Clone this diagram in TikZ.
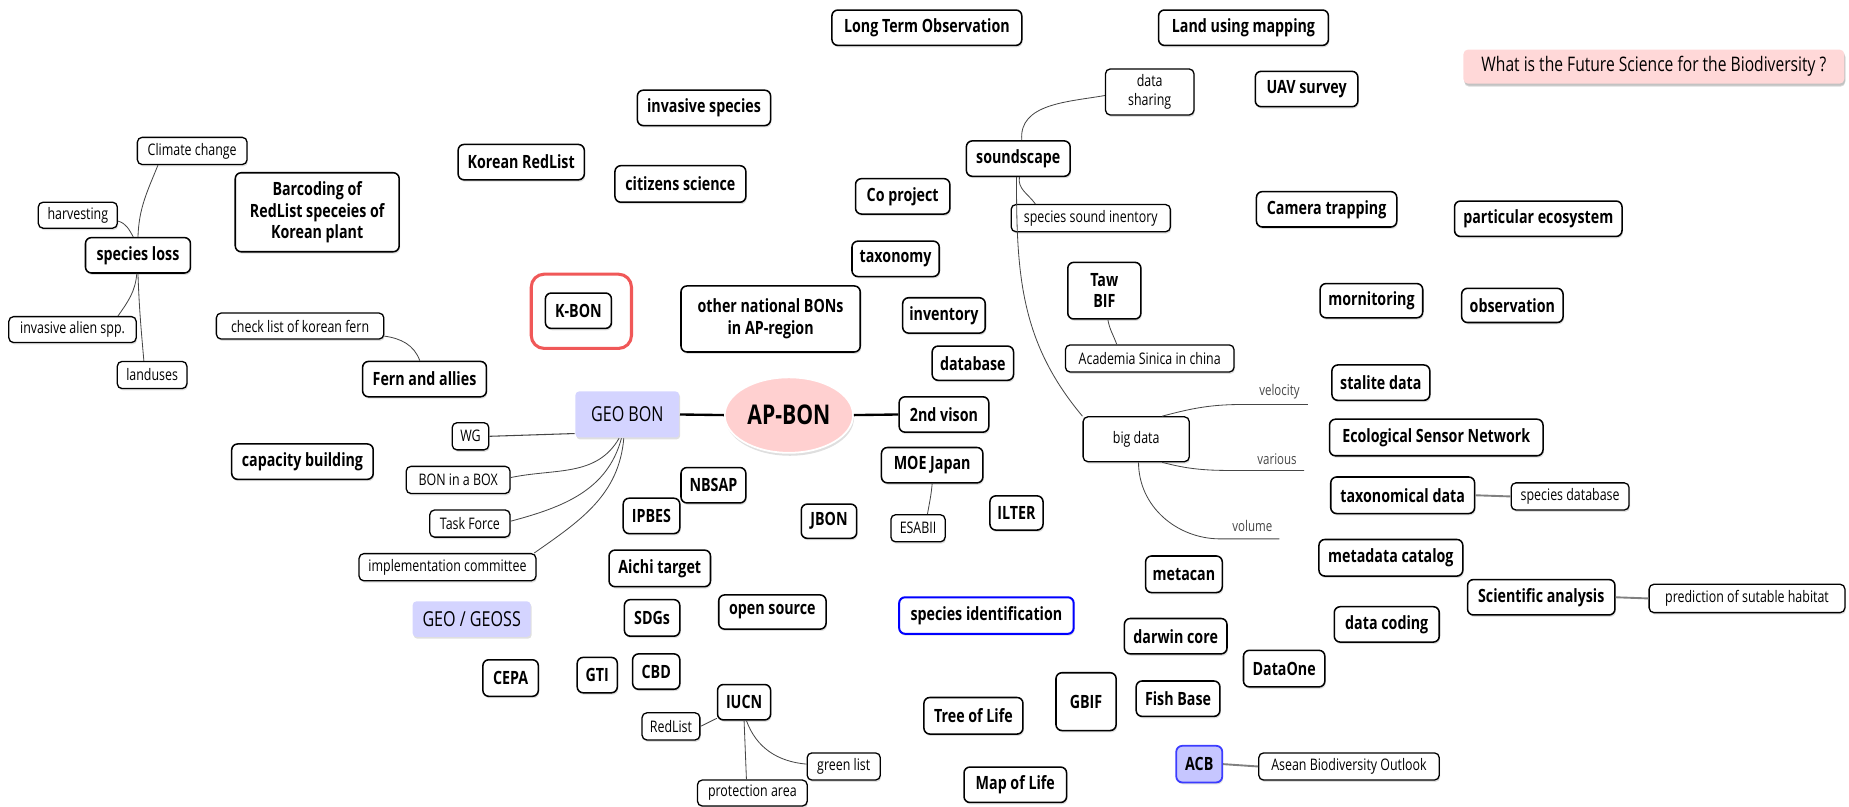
\documentclass[tikz,border=0pt]{standalone}
\usepackage{fontspec}
\setmainfont{Open Sans}[FakeStretch=0.78]
\usetikzlibrary{shapes.geometric,shadows}
\definecolor{pinkf}{RGB}{255,216,216}
\definecolor{apf}{RGB}{255,208,208}
\definecolor{lavf}{RGB}{212,212,255}
\definecolor{kred}{RGB}{240,88,88}
\definecolor{acbf}{RGB}{198,198,255}
\definecolor{acbb}{RGB}{60,60,255}
\definecolor{cline}{RGB}{70,70,70}
\tikzset{
  base/.style={rounded corners=5pt, line width=1.3pt, draw=black, fill=white, align=center, inner sep=2pt,
    drop shadow={shadow xshift=0.8pt, shadow yshift=-1.6pt, opacity=0.25}},
  bb/.style={base, font=\fontsize{15.5}{18.5}\selectfont\bfseries},
  sb/.style={base, rounded corners=4pt, line width=1.1pt, font=\fontsize{13.5}{16.5}\selectfont},
  cn/.style={draw=cline, line width=0.7pt},
  tk/.style={draw=black, line width=2pt},
  gk/.style={draw=gray, line width=1.6pt},
  lbl/.style={font=\fontsize{12.5}{13}\selectfont, inner sep=1pt, text=cline},
  sz/.style 2 args={minimum width=#1pt, minimum height=#2pt},
}
\begin{document}
\begin{tikzpicture}[x=1pt,y=1pt]
\useasboundingbox (0,0) rectangle (1568,-684);
% top row
\node[bb, sz={161}{30}] (lto) at (786,-23.5) {Long Term Observation};
\node[bb, sz={144}{30}] (lum) at (1054.5,-23.5) {Land using mapping};
\node[base, draw=none, fill=pinkf, rounded corners=4pt, sz={323}{29}, font=\fontsize{17}{18}\selectfont,
  drop shadow={shadow xshift=0.8pt, shadow yshift=-2.5pt, opacity=0.3}] (title) at (1402.5,-56.5) {What is the Future Science for the Biodiversity ?};
\node[sb, sz={75}{39}] (ds) at (975,-78) {data\\sharing};
\node[bb, sz={87}{30}] (uav) at (1108,-75.5) {UAV survey};
\node[bb, sz={113}{30}] (invs) at (597,-91.5) {invasive species};
\node[bb, sz={107}{30}] (krl) at (442,-137.5) {Korean RedList};
\node[bb, sz={111}{31}] (cs) at (577,-156) {citizens science};
\node[bb, sz={88}{30}] (snd) at (863.5,-134.5) {soundscape};
\node[bb, sz={80}{30}] (cop) at (765.5,-166.5) {Co project};
\node[sb, sz={135}{23}] (ssi) at (925,-185) {species sound inentory};
\node[bb, sz={119}{30}] (cam) at (1125,-177.5) {Camera trapping};
\node[bb, sz={142}{30}] (pec) at (1304.5,-185.5) {particular ecosystem};
% left cluster
\node[sb, sz={93}{23}] (cc) at (163,-128) {Climate change};
\node[sb, sz={67}{22}] (harv) at (66,-182.5) {harvesting};
\node[bb, sz={89}{30}] (sl) at (117,-216.5) {species loss};
\node[sb, sz={108}{22}] (ias) at (61.5,-279.5) {invasive alien spp.};
\node[sb, sz={59}{23}] (lu) at (129,-318) {landuses};
\node[bb, sz={139}{67}, font=\fontsize{15.5}{18.4}\selectfont\bfseries] (bar) at (269,-180) {Barcoding of\\RedList speceies of\\Korean plant};
\node[sb, sz={142}{22}] (ckl) at (254.5,-276.5) {check list of korean fern};
\node[bb, sz={105}{30}] (fern) at (360,-321.5) {Fern and allies};
% middle
\node[bb, sz={74}{30}] (tax) at (759.5,-219.5) {taxonomy};
\node[bb, sz={62}{48}, font=\fontsize{15.5}{17.5}\selectfont\bfseries] (taw) at (936.5,-246.5) {Taw\\BIF};
\node[draw=kred, line width=2.6pt, rounded corners=11pt, sz={85}{63}] (kbonout) at (493,-264) {};
\node[bb, sz={56}{30}] (kbon) at (490.5,-263.5) {K-BON};
\node[bb, sz={152}{56}] (onb) at (653.5,-270.5) {other national BONs\\in AP-region};
\node[bb, sz={70}{30}] (inv) at (800.5,-267.5) {inventory};
\node[bb, sz={87}{29}] (mon) at (1163,-255) {mornitoring};
\node[bb, sz={86}{29}] (obs) at (1282.5,-259) {observation};
\node[bb, sz={69}{29}] (db) at (825,-308) {database};
\node[sb, sz={143}{23}] (aca) at (975,-304) {Academia Sinica in china};
\node[bb, sz={83}{30}] (sat) at (1171,-324.5) {stalite data};
% center
\node[base, draw=none, fill=lavf, rounded corners=3pt, sz={88}{39}, font=\fontsize{17.5}{19}\selectfont] (geobon) at (532,-351.5) {GEO BON};
\node[ellipse, fill=apf, draw=white, line width=1.5pt, sz={95}{64}, font=\fontsize{23}{25}\selectfont\bfseries,
  drop shadow={shadow xshift=0.8pt, shadow yshift=-2.5pt, opacity=0.25}] (apbon) at (669,-352) {AP-BON};
\node[bb, sz={76}{30}] (vis) at (800.5,-351.5) {2nd vison};
\node[sb, sz={31}{23}] (wg) at (399,-370) {WG};
\node[sb, sz={90}{38}] (bd) at (963.5,-372.5) {big data};
\node[bb, sz={181}{31}] (esn) at (1218,-371) {Ecological Sensor Network};
\node[bb, sz={120}{30}] (capb) at (256.5,-391.5) {capacity building};
\node[bb, sz={86}{30}] (moe) at (790.5,-394.5) {MOE Japan};
\node[sb, sz={88}{23}] (bib) at (388.5,-407) {BON in a BOX};
\node[bb, sz={55}{30}] (nbsap) at (605,-411.5) {NBSAP};
\node[bb, sz={122}{31}] (taxd) at (1189.5,-420) {taxonomical data};
\node[sb, sz={100}{23}] (sdb) at (1331.5,-421) {species database};
\node[bb, sz={48}{30}] (ipbes) at (552.5,-437.5) {IPBES};
\node[bb, sz={47}{29}] (jbon) at (703,-442) {JBON};
\node[sb, sz={46}{23}] (esabii) at (778.5,-448) {ESABII};
\node[bb, sz={45}{29}] (ilter) at (862,-435) {ILTER};
\node[sb, sz={68}{23}] (tf) at (398.5,-444) {Task Force};
\node[bb, sz={122}{31}] (mdc) at (1179.5,-473) {metadata catalog};
\node[sb, sz={150}{23}] (impl) at (379.5,-481) {implementation committee};
\node[bb, sz={86}{31}] (aichi) at (559.5,-482) {Aichi target};
\node[bb, sz={65}{31}] (metacan) at (1004,-487) {metacan};
\node[bb, sz={125}{30}] (sci) at (1307,-506.5) {Scientific analysis};
\node[sb, sz={166}{24}] (pred) at (1481.5,-507.5) {prediction of sutable habitat};
\node[base, draw=none, fill=lavf, rounded corners=3pt, sz={100}{30}, font=\fontsize{17.5}{19}\selectfont] (geoss) at (400,-525) {GEO / GEOSS};
\node[bb, sz={47}{31}] (sdgs) at (553,-524) {SDGs};
\node[bb, sz={91}{29}] (os) at (655,-519) {open source};
\node[bb, draw=blue, line width=1.7pt, sz={148}{31}] (spid) at (836.5,-522) {species identification};
\node[bb, sz={89}{30}] (dc) at (1176,-529.5) {data coding};
\node[bb, sz={87}{30}] (dwc) at (997,-539.5) {darwin core};
\node[bb, sz={47}{31}] (cepa) at (433,-575) {CEPA};
\node[bb, sz={34}{30}] (gti) at (506.5,-572.5) {GTI};
\node[bb, sz={40}{30}] (cbd) at (556.5,-569.5) {CBD};
\node[bb, sz={69}{31}] (d1) at (1089,-567) {DataOne};
\node[bb, sz={45}{30}] (iucn) at (631,-595.5) {IUCN};
\node[bb, sz={51}{49}] (gbif) at (921,-595) {GBIF};
\node[bb, sz={71}{30}] (fish) at (999,-592.5) {Fish Base};
\node[bb, sz={84}{31}] (tol) at (825.5,-607) {Tree of Life};
\node[sb, sz={49}{23}] (rl) at (569,-616) {RedList};
\node[bb, draw=acbb, fill=acbf, line width=1.5pt, sz={39}{31}] (acb) at (1017,-648) {ACB};
\node[sb, sz={153}{23}] (abo) at (1144,-650) {Asean Biodiversity Outlook};
\node[sb, sz={62}{23}] (gl) at (715.5,-650) {green list};
\node[bb, sz={87}{30}] (mol) at (861,-665.5) {Map of Life};
\node[sb, sz={93}{22}] (pa) at (638,-672.5) {protection area};
% floating labels of big data
\node[lbl] (vel) at (1085,-332) {velocity};
\node[lbl] (var) at (1083,-389) {various};
\node[lbl] (vol) at (1062,-446) {volume};
\coordinate (velm) at (1055,-343);
\coordinate (vele) at (1109,-343);
\coordinate (varm) at (1055,-399);
\coordinate (vare) at (1106,-399);
\coordinate (volm) at (1035,-457);
\coordinate (vole) at (1085,-457);
% connectors
\draw[cn] ([xshift=18pt]cc.south west) to[out=-112,in=88] (sl.north);
\draw[cn] ([yshift=-5pt]harv.east) to[out=-15,in=120] ([xshift=-4pt]sl.north);
\draw[cn] ([xshift=-1pt]sl.south) to[out=-95,in=55] ([xshift=-16pt]ias.north east);
\draw[cn] (sl.south) to[out=-88,in=95] ([xshift=-7pt]lu.north);
\draw[cn] ([yshift=3pt]ckl.south east) to[out=-8,in=110] ([xshift=-4pt]fern.north);
\draw[tk] (geobon.east) -- (apbon.west);
\draw[tk] (apbon.east) -- (vis.west);
\draw[cn, line width=0.9pt] ([yshift=4pt]geobon.south west) -- (wg.east);
\draw[cn] ([xshift=-7pt]geobon.south) to[out=-120,in=12] ([yshift=2pt]bib.east);
\draw[cn] ([xshift=-5pt]geobon.south) to[out=-105,in=15] ([yshift=2pt]tf.east);
\draw[cn] ([xshift=-3pt]geobon.south) to[out=-95,in=35] ([xshift=-2pt]impl.north east);
\draw[cn] ([xshift=3pt]snd.north) to[out=95,in=190] ([yshift=-3pt]ds.west);
\draw[cn] ([xshift=1pt]snd.south) to[out=-100,in=125] ([xshift=-47pt]ssi.north);
\draw[cn] ([xshift=-1.5pt]snd.south) to[out=-90,in=130] (bd.north west);
\draw[cn] ([xshift=3pt]taw.south) to[out=-80,in=110] ([xshift=-28pt]aca.north);
\draw[cn] ([xshift=22pt]bd.north) to[out=15,in=180] (velm) -- (vele);
\draw[cn] ([xshift=22pt]bd.south) to[out=-15,in=180] (varm) -- (vare);
\draw[cn] ([xshift=2pt]bd.south) to[out=-90,in=180] (volm) -- (vole);
\draw[cn] (moe.south) to[out=-95,in=80] ([xshift=8pt]esabii.north);
\draw[cn] ([yshift=2pt]iucn.south west) -- (rl.east);
\draw[cn] (iucn.south) -- ([xshift=-5pt]pa.north);
\draw[cn] ([xshift=2pt]iucn.south) to[out=-70,in=175] ([yshift=2pt]gl.west);
\draw[gk] (taxd.east) -- (sdb.west);
\draw[gk] (sci.east) -- (pred.west);
\draw[gk] (acb.east) -- (abo.west);
\end{tikzpicture}
\end{document}
